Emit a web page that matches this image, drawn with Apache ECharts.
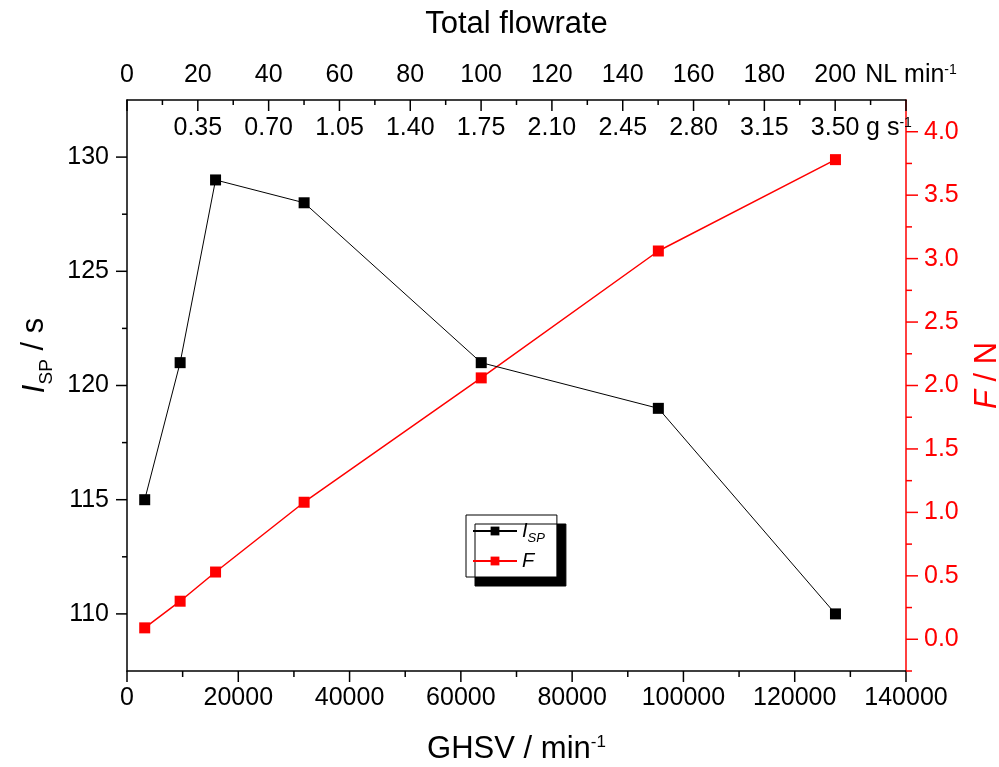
<!DOCTYPE html>
<html>
<head>
<meta charset="utf-8">
<script src="https://cdn.jsdelivr.net/npm/echarts@6/dist/echarts.min.js"></script>
<style>
html,body{margin:0;padding:0;background:#fff;overflow:hidden;}
#c{width:999px;height:767px;}
</style>
</head>
<body>
<div id="c"></div>
<script>
// ---- data ----
var ghsv = [3183, 9549, 15915, 31831, 63662, 95493, 127324];
var isp = [115, 121, 129, 128, 121, 119, 110];
var force = [0.09, 0.30, 0.53, 1.08, 2.06, 3.06, 3.78];
var ispMajorTicks = [110, 115, 120, 125, 130];
var ispMinorTicks = [112.5, 117.5, 122.5, 127.5];
var fMajorTicks = [0, 0.5, 1.0, 1.5, 2.0, 2.5, 3.0, 3.5, 4.0];
var fMinorTicks = [-0.25, 0.25, 0.75, 1.25, 1.75, 2.25, 2.75, 3.25, 3.75];
var ghsvMajorTicks = [0, 20000, 40000, 60000, 80000, 100000, 120000, 140000];
var ghsvMinorTicks = [10000, 30000, 50000, 70000, 90000, 110000, 130000];
var flowMajorTicks = [0, 20, 40, 60, 80, 100, 120, 140, 160, 180, 200, 220];
var flowMinorTicks = [10, 30, 50, 70, 90, 110, 130, 150, 170, 190, 210];

var FONT = '"Liberation Sans", Arial, sans-serif';
var RED = '#ff0000';
var TICK_FS = 25;
var TITLE_FS = 31;

function pairs(xs, ys) {
  var out = [];
  for (var i = 0; i < xs.length; i++) out.push([xs[i], ys[i]]);
  return out;
}

// tick marks drawn through the axes' own scales (custom series)
function tickSeries(side, xIdx, yIdx, values, len, color) {
  var data = values.map(function (v) { return [v]; });
  return {
    type: 'custom',
    xAxisIndex: xIdx,
    yAxisIndex: yIdx,
    silent: true,
    clip: false,
    z: 10,
    data: data,
    encode: (side === 'bottom' || side === 'top') ? {x: 0} : {y: 0},
    renderItem: function (params, api) {
      var cs = params.coordSys;
      var v = api.value(0);
      var x1, y1, x2, y2;
      if (side === 'bottom' || side === 'top') {
        var xp = api.coord([v, 0])[0];
        if (side === 'bottom') { y1 = cs.y + cs.height; y2 = y1 + len; }
        else { y1 = cs.y; y2 = y1 + len; }
        x1 = x2 = xp;
      } else {
        var yp = api.coord([0, v])[1];
        if (side === 'left') { x1 = cs.x; x2 = x1 - len; }
        else { x1 = cs.x + cs.width; x2 = x1 + len; }
        y1 = y2 = yp;
      }
      return {
        type: 'line',
        shape: {x1: x1, y1: y1, x2: x2, y2: y2},
        style: {stroke: color, lineWidth: 1.5}
      };
    }
  };
}

var chart = echarts.init(document.getElementById('c'), null, {renderer: 'canvas', width: 999, height: 767});

var option = {
  animation: false,
  backgroundColor: '#fff',
  textStyle: {fontFamily: FONT},
  grid: {left: 127, right: 93, top: 100, bottom: 96, containLabel: false, outerBoundsMode: 'none'},
  legend: {
    orient: 'vertical',
    left: 466,
    top: 515,
    padding: [6, 12, 6, 6],
    itemGap: 6,
    itemWidth: 44,
    itemHeight: 11,
    backgroundColor: '#fff',
    borderColor: '#000',
    borderWidth: 1,
    shadowColor: '#000',
    shadowBlur: 0,
    shadowOffsetX: 9,
    shadowOffsetY: 9,
    data: ['ISP', 'F'],
    formatter: function (name) {
      return name === 'ISP' ? '{i|I}{sub|SP}' : '{i|F}';
    },
    textStyle: {
      fontFamily: FONT,
      fontSize: 20,
      color: '#000',
      rich: {
        i: {fontSize: 20, fontStyle: 'italic', fontFamily: FONT, color: '#000'},
        sub: {fontSize: 13, fontStyle: 'italic', fontFamily: FONT, color: '#000', verticalAlign: 'bottom', padding: [0, 0, -4, 0]}
      }
    }
  },
  xAxis: [
    {
      type: 'value',
      position: 'bottom',
      min: 0, max: 140000, interval: 20000,
      name: 'GHSV / min{sup|-1}',
      nameLocation: 'middle',
      nameGap: 63,
      nameTextStyle: {
        fontSize: TITLE_FS, fontFamily: FONT, color: '#000',
        rich: {sup: {fontSize: 17, fontFamily: FONT, color: '#000', verticalAlign: 'top', lineHeight: 16}}
      },
      axisLine: {show: true, onZero: false, lineStyle: {color: '#000', width: 1.5}},
      axisTick: {show: false},
      axisLabel: {
        fontSize: TICK_FS, color: '#000', margin: 15, fontFamily: FONT,
        showMaxLabel: true, showMinLabel: true,
        formatter: function (v) { return String(Math.round(v)); }
      },
      splitLine: {show: false}
    },
    {
      type: 'value',
      position: 'top',
      min: 0, max: 220, interval: 20,
      name: 'Total flowrate',
      nameLocation: 'middle',
      nameGap: 60,
      nameTextStyle: {fontSize: TITLE_FS, fontFamily: FONT, color: '#000'},
      axisLine: {show: true, onZero: false, lineStyle: {color: '#000', width: 1.5}},
      axisTick: {show: false},
      axisLabel: {
        fontSize: TICK_FS, color: '#000', margin: 12, fontFamily: FONT,
        showMaxLabel: true, showMinLabel: true,
        formatter: function (v) {
          if (v > 210) return '{u|NL min}{sup|-1}';
          return String(Math.round(v));
        },
        rich: {
          u: {fontSize: TICK_FS, fontFamily: FONT, color: '#000', padding: [0, 0, 0, 10]},
          sup: {fontSize: 14, fontFamily: FONT, color: '#000', verticalAlign: 'top', lineHeight: 14}
        }
      },
      splitLine: {show: false}
    },
    {
      type: 'value',
      position: 'top',
      min: 0, max: 3.85, interval: 0.35,
      axisLine: {show: false, onZero: false},
      axisTick: {show: false},
      axisLabel: {
        inside: true,
        fontSize: TICK_FS, color: '#000', margin: 16, fontFamily: FONT,
        showMaxLabel: true, showMinLabel: true,
        formatter: function (v) {
          if (v < 0.01) return '';
          if (v > 3.6) return '{u|g s}{sup|-1}';
          return v.toFixed(2);
        },
        rich: {
          u: {fontSize: TICK_FS, fontFamily: FONT, color: '#000'},
          sup: {fontSize: 14, fontFamily: FONT, color: '#000', verticalAlign: 'top', lineHeight: 14, padding: [0, 34, 0, 0]}
        }
      },
      splitLine: {show: false}
    }
  ],
  yAxis: [
    {
      type: 'value',
      position: 'left',
      min: 107.5, max: 132.5,
      name: '{i|I}{sub|SP} / s',
      nameLocation: 'middle',
      nameRotate: 90,
      nameGap: 74,
      nameTextStyle: {
        fontSize: TITLE_FS, fontFamily: FONT, color: '#000',
        padding: [0, 0, 0, 60],
        rich: {
          i: {fontSize: TITLE_FS, fontStyle: 'italic', fontFamily: FONT, color: '#000'},
          sub: {fontSize: 19, fontFamily: FONT, color: '#000', verticalAlign: 'bottom', padding: [0, 0, -6, 0]}
        }
      },
      axisLine: {show: true, onZero: false, lineStyle: {color: '#000', width: 1.5}},
      axisTick: {show: false},
      axisLabel: {fontSize: TICK_FS, color: '#000', margin: 18, fontFamily: FONT, customValues: ispMajorTicks},
      splitLine: {show: false}
    },
    {
      type: 'value',
      position: 'right',
      min: -0.25, max: 4.25,
      name: '{i|F} / N',
      nameLocation: 'middle',
      nameRotate: 90,
      nameGap: 66,
      nameTextStyle: {
        fontSize: TITLE_FS, fontFamily: FONT, color: RED,
        padding: [0, 0, 0, 20],
        rich: {i: {fontSize: TITLE_FS, fontStyle: 'italic', fontFamily: FONT, color: RED}}
      },
      axisLine: {show: true, onZero: false, lineStyle: {color: RED, width: 1.5}},
      axisTick: {show: false},
      axisLabel: {
        fontSize: TICK_FS, color: RED, margin: 18, fontFamily: FONT, customValues: fMajorTicks,
        formatter: function (v) { return v.toFixed(1); }
      },
      splitLine: {show: false}
    }
  ],
  series: [
    {
      name: 'ISP',
      type: 'line',
      xAxisIndex: 0,
      yAxisIndex: 0,
      data: pairs(ghsv, isp),
      symbol: 'rect',
      symbolSize: 11,
      showAllSymbol: true,
      lineStyle: {color: '#000', width: 1},
      itemStyle: {color: '#000'},
      z: 3
    },
    {
      name: 'F',
      type: 'line',
      xAxisIndex: 0,
      yAxisIndex: 1,
      data: pairs(ghsv, force),
      symbol: 'rect',
      symbolSize: 11,
      showAllSymbol: true,
      lineStyle: {color: RED, width: 1.5},
      itemStyle: {color: RED},
      z: 2
    },
    tickSeries('bottom', 0, 0, ghsvMajorTicks, 11, '#000'),
    tickSeries('bottom', 0, 0, ghsvMinorTicks, 6, '#000'),
    tickSeries('top', 1, 0, flowMajorTicks, 11, '#000'),
    tickSeries('top', 1, 0, flowMinorTicks, 5, '#000'),
    tickSeries('left', 0, 0, ispMajorTicks, 11, '#000'),
    tickSeries('left', 0, 0, ispMinorTicks, 5, '#000'),
    tickSeries('right', 0, 1, fMajorTicks, 12, RED),
    tickSeries('right', 0, 1, fMinorTicks, 6, RED)
  ]
};

chart.setOption(option);
</script>
</body>
</html>
